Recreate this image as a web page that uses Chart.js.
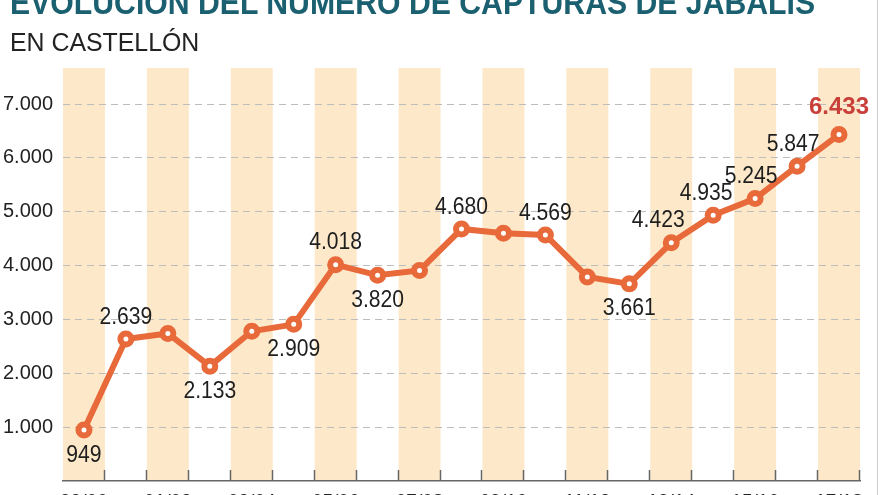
<!DOCTYPE html>
<html>
<head>
<meta charset="utf-8">
<script src="https://cdn.jsdelivr.net/npm/chart.js@4/dist/chart.umd.min.js"></script>
<style>
  html, body { margin: 0; padding: 0; background: #fff; overflow: hidden; }
  body { width: 880px; height: 495px; position: relative; }
  #wrap { position: absolute; left: 0; top: 0; width: 880px; height: 520px; }
  .title {
    position: absolute; left: 10px; top: -15px; margin: 0;
    font: bold 34px/1 "Liberation Sans", Arial, sans-serif;
    color: #1b6070; white-space: nowrap; transform-origin: left top;
  }
  .subtitle {
    position: absolute; left: 10px; top: 30px; margin: 0;
    font: normal 25px/1 "Liberation Sans", Arial, sans-serif;
    color: #222; white-space: nowrap; transform-origin: left top;
  }
  .edge { position: absolute; left: 877px; top: 0; width: 1px; height: 495px; background: #cfcfcf; }
</style>
</head>
<body>
<div id="wrap"><canvas id="chart" width="880" height="520"></canvas></div>
<h1 class="title" data-w="805">EVOLUCIÓN DEL NÚMERO DE CAPTURAS DE JABALÍS</h1>
<h2 class="subtitle" data-w="189">EN CASTELLÓN</h2>
<div class="edge"></div>
<script>
// temporadas de caza (solo se rotulan las pares)
const seasons = ['99/00', '00/01', '01/02', '02/03', '03/04', '04/05', '05/06', '06/07', '07/08', '08/09',
                 '09/10', '10/11', '11/12', '12/13', '13/14', '14/15', '15/16', '16/17', '17/18'];
// capturas por temporada
const captures = [949, 2639, 2740, 2133, 2780, 2909, 4018, 3820, 3910, 4680,
                  4600, 4569, 3790, 3661, 4423, 4935, 5245, 5847, 6433];
// qué valores llevan etiqueta y dónde: 'a' encima, 'b' debajo, '' sin etiqueta
const labelSide = ['b', 'a', '', 'b', '', 'b', 'a', 'b', '', 'a',
                   '', 'a', '', 'b', 'a', 'a', 'a', 'a', 'a'];
const labelShift = [0, 0, 0, 0, 0, 0, 0, 0, 0, 0, 0, 0, 0, 0, -13, -7, -4, -4, 0];
const yTicks = [1000, 2000, 3000, 4000, 5000, 6000, 7000];

const ORANGE = '#e8693a';
const STRIPE = '#fde9c9';
const FONT = '"Liberation Sans", Arial, sans-serif';

const fmt = n => String(n).replace(/\B(?=(\d{3})+(?!\d))/g, '.');

// titulares estrechos, como la tipografía condensada del original
document.querySelectorAll('[data-w]').forEach(el => {
  el.style.transform = `scaleX(${el.dataset.w / el.scrollWidth})`;
});

// franjas de fondo + marcas del eje x
const background = {
  id: 'background',
  beforeDraw(chart) {
    const { ctx, chartArea, scales: { x } } = chart;
    const w = (chartArea.right - chartArea.left) / seasons.length;
    ctx.save();
    ctx.fillStyle = STRIPE;
    seasons.forEach((s, i) => {
      if (i % 2) return;
      const cx = x.getPixelForValue(i);
      ctx.fillRect(cx - w / 2, chartArea.top, w, chartArea.bottom - chartArea.top);
    });
    ctx.restore();
  },
  afterDraw(chart) {
    const { ctx, chartArea } = chart;
    const w = (chartArea.right - chartArea.left) / seasons.length;
    ctx.save();
    ctx.strokeStyle = '#666';
    ctx.lineWidth = 1.5;
    for (let i = 1; i <= seasons.length; i++) {
      const px = Math.round(chartArea.left + i * w) - 0.5;
      ctx.beginPath();
      ctx.moveTo(px, chartArea.bottom - 11);
      ctx.lineTo(px, chartArea.bottom);
      ctx.stroke();
    }
    ctx.restore();
  }
};

// etiquetas con los valores
const valueLabels = {
  id: 'valueLabels',
  afterDatasetsDraw(chart) {
    const { ctx } = chart;
    const pts = chart.getDatasetMeta(0).data;
    pts.forEach((p, i) => {
      const side = labelSide[i];
      if (!side) return;
      const last = i === captures.length - 1;
      const dy = side === 'a' ? (last ? -27 : -22) : 25;
      ctx.save();
      ctx.textAlign = 'center';
      ctx.textBaseline = 'middle';
      ctx.translate(p.x + labelShift[i], p.y + dy);
      if (!last) ctx.scale(0.88, 1);
      ctx.font = (last ? 'bold 24px ' : '24px ') + FONT;
      ctx.fillStyle = last ? '#c9403a' : '#1e1e1e';
      ctx.fillText(fmt(captures[i]), 0, 0);
      ctx.restore();
    });
  }
};

new Chart(document.getElementById('chart'), {
  type: 'line',
  data: {
    labels: seasons,
    datasets: [{
      data: captures,
      borderColor: ORANGE,
      borderWidth: 6,
      pointRadius: 5.5,
      pointBorderWidth: 6,
      pointBackgroundColor: '#fff',
      pointBorderColor: ORANGE,
      tension: 0,
      clip: false
    }]
  },
  options: {
    responsive: false,
    animation: false,
    devicePixelRatio: 1,
    layout: { padding: { top: 68, right: 20, left: 0, bottom: 0 } },
    plugins: { legend: { display: false }, tooltip: { enabled: false } },
    scales: {
      x: {
        offset: true,
        grid: { display: false },
        border: { display: true, color: '#666', width: 1.5 },
        ticks: {
          autoSkip: false,
          maxRotation: 0,
          padding: 1,
          color: '#222',
          font: { family: FONT, size: 19 },
          callback: (v, i) => (i % 2 ? '' : seasons[i])
        },
        afterFit: s => { s.height = 39; }
      },
      y: {
        min: 0,
        max: 7670,
        afterBuildTicks: s => { s.ticks = yTicks.map(v => ({ value: v })); },
        grid: { color: '#bdbdbd', lineWidth: 1, drawTicks: false },
        border: { display: false, dash: [7, 5] },
        ticks: {
          padding: 10,
          color: '#222',
          font: { family: FONT, size: 20 },
          callback: v => fmt(v)
        },
        afterFit: s => { s.width = 63; }
      }
    }
  },
  plugins: [background, valueLabels]
});
</script>
</body>
</html>
